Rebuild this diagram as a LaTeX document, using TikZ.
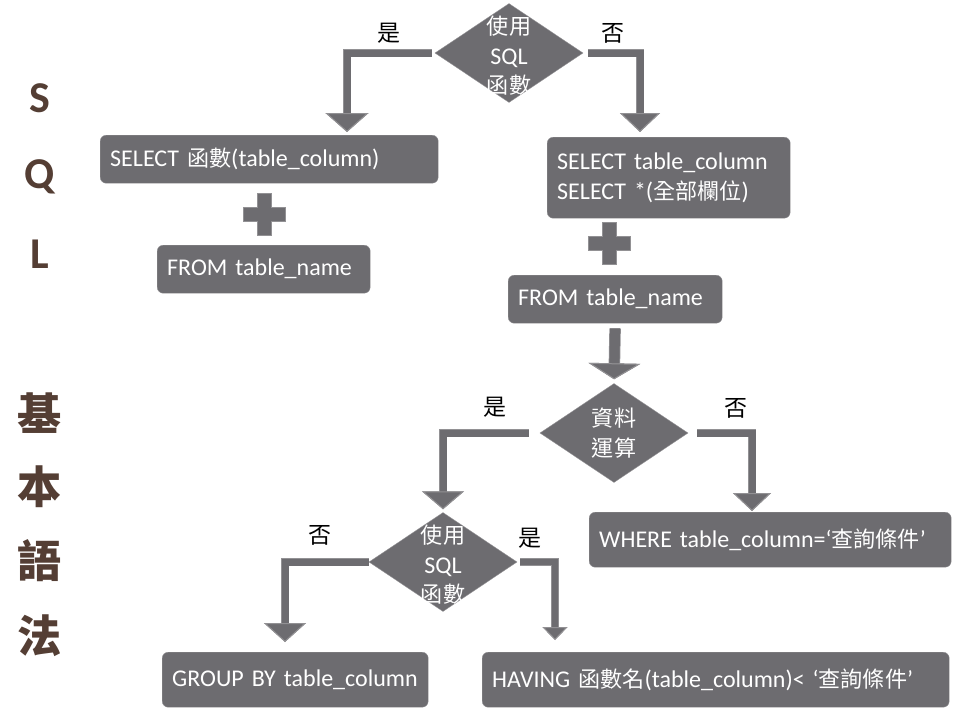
\documentclass[tikz,border=0pt]{standalone}
\usepackage{fontspec}
\setmainfont{Carlito}
\newfontfamily\cjk[Scale=0.92]{Noto Sans CJK TC}
\usetikzlibrary{shapes.geometric,arrows.meta}

\definecolor{boxfill}{RGB}{109,108,112}
\definecolor{boxline}{RGB}{146,145,148}
\definecolor{titlebrown}{RGB}{84,62,52}

\tikzset{
	sqlbox/.style={draw=boxline, fill=boxfill, rounded corners=6pt, text=white, anchor=north west,
		font=\fontsize{24}{30}\selectfont, align=left, inner xsep=10pt, inner ysep=0pt},
	decision/.style={diamond, draw=boxline, fill=boxfill, minimum width=148pt, minimum height=99pt, inner sep=0pt},
	dtext/.style={text=white, align=center, font=\fontsize{24}{29.5}\selectfont},
	yesno/.style={font=\cjk\fontsize{25}{25}\selectfont},
	titleletter/.style={text=titlebrown, font=\bfseries\fontsize{44}{44}\selectfont},
	titlecjk/.style={text=titlebrown, font=\cjk\bfseries\fontsize{48}{48}\selectfont},
	fatarrow/.style n args={3}{draw=boxfill, line width=#1pt,
		-{Triangle[width=#2pt,length=#3pt,line width=1pt,color=boxline,fill=boxfill]},
		preaction={draw=boxline, line width=#1pt+1.5pt}},
	plus/.pic={
		\fill[boxfill, draw=boxline] (-21,-7) -- (-7,-7) -- (-7,-21) -- (7,-21) -- (7,-7) -- (21,-7)
		-- (21,7) -- (7,7) -- (7,21) -- (-7,21) -- (-7,7) -- (-21,7) -- cycle;
	}
}

\begin{document}
\begin{tikzpicture}[x=1pt, y=-1pt]
	\useasboundingbox (0,0) rectangle (962,712);

	% title
	\foreach \ch/\yy [count=\i] in {S/98, Q/177, L/254}
		\node[titleletter] (t\i) at (40,\yy) {\ch};
	\foreach \ch/\yy [count=\i] in {基/413, 本/487, 語/561, 法/636}
		\node[titlecjk] (c\i) at (40,\yy) {\ch};

	% first question
	\node[decision, label={[dtext, yshift=-3pt]center:{\cjk 使用}\\SQL\\{\cjk 函數}}] (q1) at (509,53) {};
	\node[yesno] (q1yes) at (389,33) {是};
	\node[yesno] (q1no) at (613,33) {否};

	\node[sqlbox, minimum height=48pt, text width=318pt] (sel1) at (100,135) {SELECT {\cjk 函數}(table\_column)};
	\pic at (264,214) {plus};
	\node[sqlbox, minimum height=48pt, text width=193pt] (from1) at (157,245) {FROM table\_name};

	\node[sqlbox, minimum height=81pt, text width=223pt] (sel2) at (547,137) {SELECT table\_column\\SELECT *({\cjk 全部欄位})};
	\pic at (609,243) {plus};
	\node[sqlbox, minimum height=48pt, text width=194pt] (from2) at (508,275) {FROM table\_name};

	% second question
	\node[decision, label={[dtext]center:{\cjk 資料}\\{\cjk 運算}}] (q2) at (614,433) {};
	\node[yesno] (q2yes) at (495,407) {是};
	\node[yesno] (q2no) at (736,408) {否};

	\node[sqlbox, minimum height=55pt, text width=342pt] (where) at (589,512) {WHERE table\_column=‘{\cjk 查詢條件}’};

	% third question
	\node[decision, label={[dtext, yshift=-3pt]center:{\cjk 使用}\\SQL\\{\cjk 函數}}] (q3) at (443,562) {};
	\node[yesno] (q3no) at (320,535) {否};
	\node[yesno] (q3yes) at (530,538) {是};

	\node[sqlbox, minimum height=55pt, text width=246pt] (group) at (162,652) {\mbox{GROUP BY table\_column}};
	\node[sqlbox, minimum height=55pt, text width=447pt] (having) at (482,652) {HAVING {\cjk 函數名}(table\_column)< ‘{\cjk 查詢條件}’};

	% arrow ends
	\coordinate (e1) at (347,132);
	\coordinate (e2) at (640,132);
	\coordinate (e4) at (752,511);
	\coordinate (e5) at (285,642);
	\coordinate (e6) at (555,640);

	\draw[fatarrow={7}{43}{19}, shorten <=3pt] (q1.west) -| (e1);
	\draw[fatarrow={7}{40}{19}, shorten <=5pt] (q1.east) -| (e2);
	\draw[fatarrow={10}{52}{16}, shorten <=5pt, shorten >=4pt] (from2.south) -- (q2.north);
	\draw[fatarrow={7}{42}{18}, shorten <=11pt, shorten >=3pt] (q2.west) -| (q3.north);
	\draw[fatarrow={7}{38}{18}, shorten <=9pt] (q2.east) -| (e4);
	\draw[fatarrow={7}{42}{19}] (q3.west) -| (e5);
	\draw[fatarrow={6}{25}{13}, shorten <=3pt] (q3.east) -| (e6);
\end{tikzpicture}
\end{document}
